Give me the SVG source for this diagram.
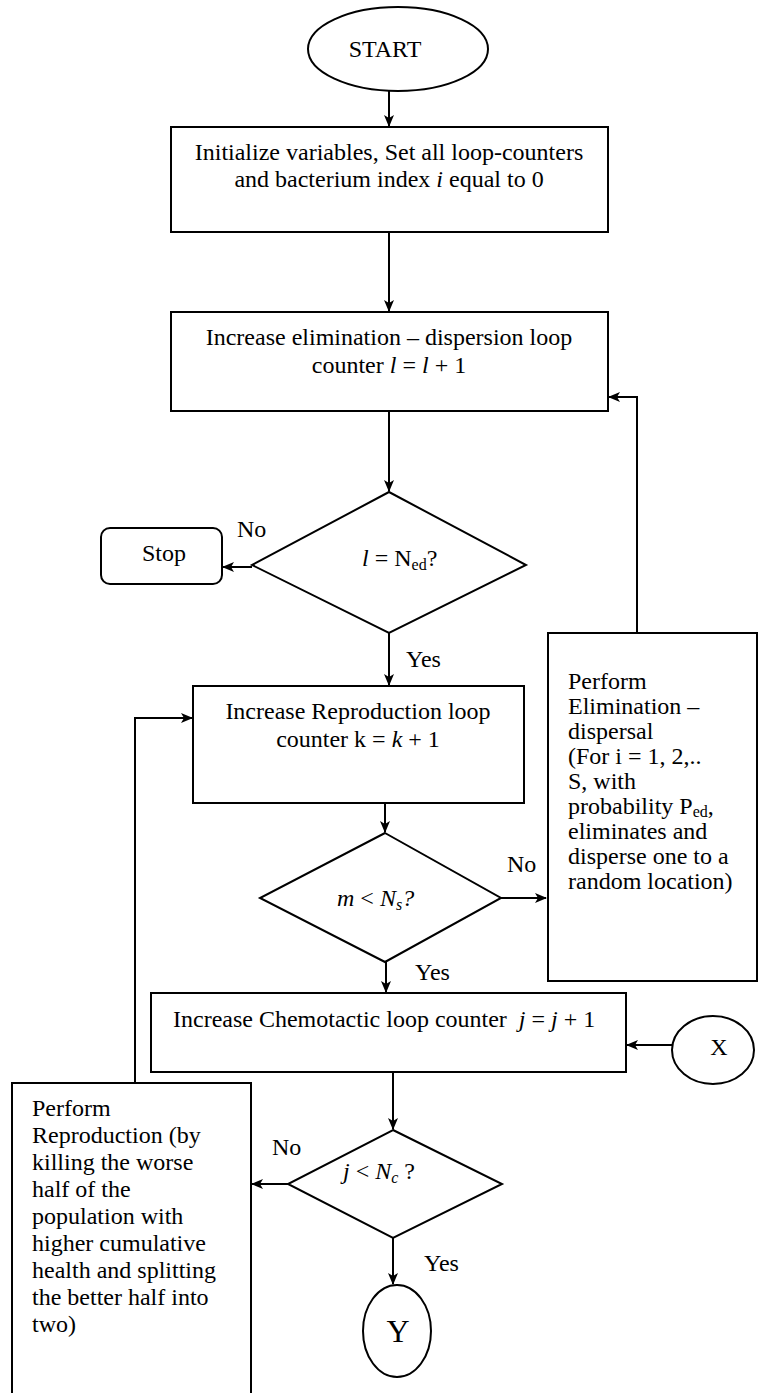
<svg xmlns="http://www.w3.org/2000/svg" width="759" height="1393" viewBox="0 0 759 1393">
<style>
text{font-family:"Liberation Serif","Times New Roman",serif;font-size:24px;fill:#000}
.c{text-anchor:middle}
.i{font-style:italic}
.s{font-size:16px}
.box{fill:#fff;stroke:#000;stroke-width:2}
.ln{fill:none;stroke:#000;stroke-width:2}
</style>
<defs>
<marker id="ah" viewBox="0 0 12 10" refX="11" refY="5" markerWidth="12" markerHeight="10" markerUnits="userSpaceOnUse" orient="auto">
<path d="M0,0 L12,5 L0,10 L3,5 Z" fill="#000"/>
</marker>
</defs>
<g id="connectors">
<path class="ln" d="M389,91 V126" marker-end="url(#ah)"/>
<path class="ln" d="M389,232 V311" marker-end="url(#ah)"/>
<path class="ln" d="M389,411 V491" marker-end="url(#ah)"/>
<path class="ln" d="M252,567 H223" marker-end="url(#ah)"/>
<path class="ln" d="M389,633 V685" marker-end="url(#ah)"/>
<path class="ln" d="M637,633 V397 H609" marker-end="url(#ah)"/>
<path class="ln" d="M135,1083 V718 H192" marker-end="url(#ah)"/>
<path class="ln" d="M385,803 V832" marker-end="url(#ah)"/>
<path class="ln" d="M501,898 H546" marker-end="url(#ah)"/>
<path class="ln" d="M386,962 V992" marker-end="url(#ah)"/>
<path class="ln" d="M672,1045 H627" marker-end="url(#ah)"/>
<path class="ln" d="M393,1072 V1129" marker-end="url(#ah)"/>
<path class="ln" d="M288,1184 H252" marker-end="url(#ah)"/>
<path class="ln" d="M393,1238 V1284" marker-end="url(#ah)"/>
<text x="237" y="537">No</text>
<text x="406" y="667">Yes</text>
<text x="507" y="872">No</text>
<text x="415" y="980">Yes</text>
<text x="272" y="1155">No</text>
<text x="424" y="1271">Yes</text>
</g>
<g id="start">
<ellipse class="box" cx="398" cy="49" rx="90" ry="42"/>
<text class="c" x="385" y="57">START</text>
</g>
<g id="init">
<rect class="box" x="171" y="127" width="437" height="105"/>
<text class="c" x="389" y="160">Initialize variables, Set all loop-counters</text>
<text class="c" x="389" y="187">and bacterium index <tspan class="i">i</tspan> equal to 0</text>
</g>
<g id="incL">
<rect class="box" x="171" y="312" width="437" height="99"/>
<text class="c" x="389" y="345">Increase elimination – dispersion loop</text>
<text class="c" x="389" y="373">counter <tspan class="i">l</tspan> = <tspan class="i">l</tspan> + 1</text>
</g>
<g id="decL">
<polygon class="box" points="389,492 526,565 389,633 252,565"/>
<text x="362" y="566"><tspan class="i">l</tspan> = N<tspan class="s" dy="4">ed</tspan><tspan dy="-4">?</tspan></text>
</g>
<g id="stop">
<rect class="box" x="101" y="528" width="121" height="56" rx="9"/>
<text class="c" x="164" y="561">Stop</text>
</g>
<g id="incK">
<rect class="box" x="193" y="686" width="331" height="117"/>
<text class="c" x="358" y="719">Increase Reproduction loop</text>
<text class="c" x="358" y="747">counter k = <tspan class="i">k</tspan> + 1</text>
</g>
<g id="elim">
<rect class="box" x="548" y="633" width="209" height="348"/>
<text x="568" y="689">Perform</text>
<text x="568" y="714">Elimination –</text>
<text x="568" y="739">dispersal</text>
<text x="568" y="764">(For i = 1, 2,..</text>
<text x="568" y="789">S, with</text>
<text x="568" y="814">probability P<tspan class="s" dy="3">ed</tspan><tspan dy="-3">,</tspan></text>
<text x="568" y="839">eliminates and</text>
<text x="568" y="864">disperse one to a</text>
<text x="568" y="889">random location)</text>
</g>
<g id="decM">
<polygon class="box" points="385,833 501,898 385,962 260,898"/>
<text x="337" y="906"><tspan class="i">m</tspan> &lt; <tspan class="i">N<tspan class="s" dy="4">s</tspan><tspan dy="-4">?</tspan></tspan></text>
</g>
<g id="incJ">
<rect class="box" x="151" y="993" width="475" height="79"/>
<text x="173" y="1027" xml:space="preserve">Increase Chemotactic loop counter  <tspan class="i">j</tspan> = <tspan class="i">j</tspan> + 1</text>
</g>
<g id="x">
<ellipse class="box" cx="713" cy="1050" rx="41" ry="34"/>
<text class="c" x="719" y="1055">X</text>
</g>
<g id="decJ">
<polygon class="box" points="393,1130 502,1184 393,1238 288,1184"/>
<text x="343" y="1179"><tspan class="i">j</tspan> &lt; <tspan class="i">N<tspan class="s" dy="4">c</tspan></tspan><tspan dy="-4"> ?</tspan></text>
</g>
<g id="repro">
<rect class="box" x="12" y="1083" width="239" height="320"/>
<text x="32" y="1116">Perform</text>
<text x="32" y="1143">Reproduction (by</text>
<text x="32" y="1170">killing the worse</text>
<text x="32" y="1197">half of the</text>
<text x="32" y="1224">population with</text>
<text x="32" y="1251">higher cumulative</text>
<text x="32" y="1278">health and splitting</text>
<text x="32" y="1305">the better half into</text>
<text x="32" y="1332">two)</text>
</g>
<g id="y">
<ellipse class="box" cx="397" cy="1331" rx="34" ry="46"/>
<text class="c" x="398" y="1342" style="font-size:32px">Y</text>
</g>
</svg>
